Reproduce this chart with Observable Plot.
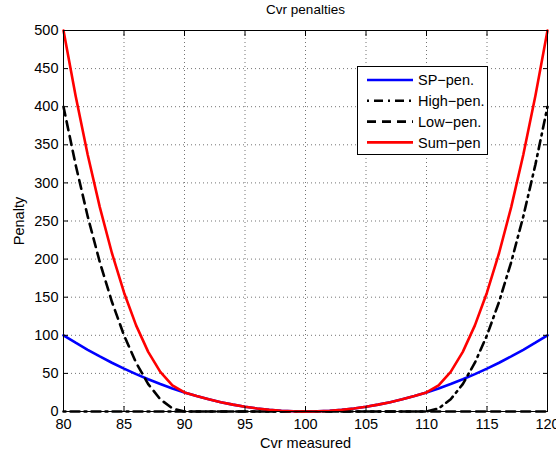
<!DOCTYPE html>
<html><head><meta charset="utf-8">
<script src="https://cdn.jsdelivr.net/npm/d3@7"></script>
<script src="https://cdn.jsdelivr.net/npm/@observablehq/plot@0.6"></script>
<style>
body{margin:0;background:#fff;font-family:"Liberation Sans",Arial,sans-serif;}
#wrap{position:relative;width:556px;height:452px;}
#legend{position:absolute;left:357px;top:66px;width:129px;height:87px;background:#fff;border:1px solid #000;box-sizing:content-box;}
</style>
</head><body>
<div id="wrap"></div>
<script>
const cvr = [80,81,82,83,84,85,86,87,88,89,90,91,92,93,94,95,96,97,98,99,100,101,102,103,104,105,106,107,108,109,110,111,112,113,114,115,116,117,118,119,120];
const spPen = [100,90.25,81,72.25,64,56.25,49,42.25,36,30.25,25,20.25,16,12.25,9,6.25,4,2.25,1,0.25,0,0.25,1,2.25,4,6.25,9,12.25,16,20.25,25,30.25,36,42.25,49,56.25,64,72.25,81,90.25,100];
const highPen = [0,0,0,0,0,0,0,0,0,0,0,0,0,0,0,0,0,0,0,0,0,0,0,0,0,0,0,0,0,0,0,4,16,36,64,100,144,196,256,324,400];
const lowPen = [400,324,256,196,144,100,64,36,16,4,0,0,0,0,0,0,0,0,0,0,0,0,0,0,0,0,0,0,0,0,0,0,0,0,0,0,0,0,0,0,0];
const sumPen = [500,414.25,337,268.25,208,156.25,113,78.25,52,34.25,25,20.25,16,12.25,9,6.25,4,2.25,1,0.25,0,0.25,1,2.25,4,6.25,9,12.25,16,20.25,25,34.25,52,78.25,113,156.25,208,268.25,337,414.25,500];
const xTicks = [80,85,90,95,100,105,110,115,120];
const yTicks = [0,50,100,150,200,250,300,350,400,450,500];
const seriesNames = ["SP\u2212pen.","High\u2212pen.","Low\u2212pen.","Sum\u2212pen"];
const seriesColors = ["#0000ff","#000000","#000000","#ff0000"];
const seriesDash = [null,"2,5,9,5","9,6",null];
const seriesValues = [spPen, highPen, lowPen, sumPen];

const lineMarks = seriesValues.map((vals,i) =>
  Plot.line(cvr.map((x,j)=>({x, y: vals[j]})), {x:"x", y:"y", stroke: seriesColors[i], strokeWidth: 2.6, strokeDasharray: seriesDash[i] ?? undefined, strokeLinejoin:"round", clip: false})
);

const chart = Plot.plot({
  width: 556, height: 452,
  marginLeft: 63, marginRight: 9, marginTop: 30, marginBottom: 41,
  style: {fontFamily: '"Liberation Sans", Arial, sans-serif', fontSize: "14.5px", background: "#fff", color: "#000", overflow: "visible"},
  x: {domain: [80,120]},
  y: {domain: [0,500]},
  marks: [
    Plot.gridX(xTicks, {stroke: "#000", strokeOpacity: 0.55, strokeDasharray: "1,3"}),
    Plot.gridY(yTicks, {stroke: "#000", strokeOpacity: 0.55, strokeDasharray: "1,3"}),
    ...lineMarks,
    Plot.frame({stroke: "#000", strokeWidth: 1}),
    Plot.axisX(xTicks, {anchor: "bottom", tickSize: 5, dy: -5, text: null, label: null, strokeWidth: 1}),
    Plot.axisX(xTicks, {anchor: "top", tickSize: 5, dy: 5, text: null, label: null, strokeWidth: 1}),
    Plot.axisY(yTicks, {anchor: "left", tickSize: 5, dx: 5, text: null, label: null, strokeWidth: 1}),
    Plot.axisY(yTicks, {anchor: "right", tickSize: 5, dx: -5, text: null, label: null, strokeWidth: 1}),
    Plot.axisX(xTicks, {anchor: "bottom", tickSize: 0, tickPadding: 7, label: "Cvr measured", labelAnchor: "center", labelOffset: 36, labelArrow: "none", fontSize: 14.5}),
    Plot.axisY(yTicks, {anchor: "left", tickSize: 0, tickPadding: 5, label: "Penalty", labelAnchor: "center", labelOffset: 50, labelArrow: "none", fontSize: 14.5}),
    Plot.text(["Cvr penalties"], {frameAnchor: "top", dy: -17, fontSize: 13.5, lineAnchor: "bottom"})
  ]
});
document.getElementById("wrap").appendChild(chart);

// legend overlay
const leg = d3.select("#wrap").append("div").attr("id","legend");
const lsvg = leg.append("svg").attr("width",129).attr("height",87).style("display","block");
seriesNames.forEach((name,i)=>{
  const cy = 13 + i*20.8;
  lsvg.append("line").attr("x1",9).attr("x2",55).attr("y1",cy).attr("y2",cy)
    .attr("stroke",seriesColors[i]).attr("stroke-width",2.6)
    .attr("stroke-dasharray",seriesDash[i]);
  lsvg.append("text").attr("x",60).attr("y",cy).attr("dy","0.36em")
    .attr("font-size",14.5).attr("font-family",'"Liberation Sans", Arial, sans-serif').text(name);
});
</script>
</body></html>
